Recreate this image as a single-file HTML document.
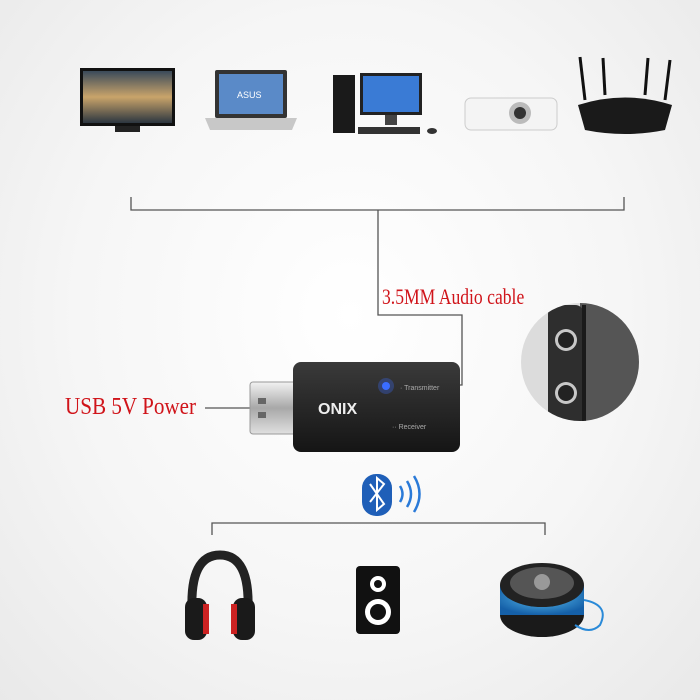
<!DOCTYPE html>
<html><head><meta charset="utf-8"><style>
html,body{margin:0;padding:0}
body{width:700px;height:700px;background:radial-gradient(ellipse at 50% 45%,#ffffff 0%,#f6f6f6 55%,#e9e9e9 100%);position:relative;overflow:hidden;font-family:"Liberation Sans",sans-serif}
.abs{position:absolute}
.red{color:#d0141a;font-family:"Liberation Serif",serif;transform-origin:0 0}
</style></head><body>
<svg class="abs" style="left:0;top:0" width="700" height="700" viewBox="0 0 700 700">
<defs>
<linearGradient id="sky" x1="0" y1="0" x2="0" y2="1"><stop offset="0" stop-color="#3a4a5a"/><stop offset="0.5" stop-color="#c9a46a"/><stop offset="1" stop-color="#2c3640"/></linearGradient>
<linearGradient id="body" x1="0" y1="0" x2="0" y2="1"><stop offset="0" stop-color="#3a3a3a"/><stop offset="1" stop-color="#151515"/></linearGradient>
<linearGradient id="usb" x1="0" y1="0" x2="0" y2="1"><stop offset="0" stop-color="#f2f2f2"/><stop offset="0.5" stop-color="#a8a8a8"/><stop offset="1" stop-color="#e0e0e0"/></linearGradient>
<radialGradient id="blue" cx="0.5" cy="0.4" r="0.6"><stop offset="0" stop-color="#5cc0f0"/><stop offset="1" stop-color="#1560a8"/></radialGradient>
<clipPath id="cc"><circle cx="580" cy="362" r="59"/></clipPath>
</defs>
<!-- TV -->
<rect x="80" y="68" width="95" height="58" fill="#111"/>
<rect x="83" y="71" width="89" height="52" fill="url(#sky)"/>
<rect x="115" y="126" width="25" height="6" fill="#222"/>
<!-- Laptop -->
<rect x="215" y="70" width="72" height="48" rx="2" fill="#333"/>
<rect x="219" y="74" width="64" height="40" fill="#5a8ac8"/>
<text x="237" y="98" font-size="9" fill="#fff" font-family="Liberation Sans">ASUS</text>
<polygon points="205,118 297,118 292,130 210,130" fill="#c8c8c8"/>
<!-- PC -->
<rect x="333" y="75" width="22" height="58" fill="#1a1a1a"/>
<rect x="360" y="73" width="62" height="42" fill="#222"/>
<rect x="363" y="76" width="56" height="36" fill="#3a7bd5"/>
<rect x="385" y="115" width="12" height="10" fill="#444"/>
<rect x="358" y="127" width="62" height="7" fill="#333"/>
<ellipse cx="432" cy="131" rx="5" ry="3" fill="#333"/>
<!-- Projector -->
<rect x="465" y="98" width="92" height="32" rx="6" fill="#f4f4f4" stroke="#ccc"/>
<circle cx="520" cy="113" r="11" fill="#bbb"/><circle cx="520" cy="113" r="6" fill="#333"/>
<!-- Router -->
<g stroke="#111" stroke-width="3"><line x1="585" y1="100" x2="580" y2="57"/><line x1="605" y1="95" x2="603" y2="58"/><line x1="645" y1="95" x2="648" y2="58"/><line x1="665" y1="100" x2="670" y2="60"/></g>
<path d="M578 105 Q625 90 672 105 L665 130 Q625 138 585 130 Z" fill="#1a1a1a"/>
<!-- brackets -->
<g stroke="#555" stroke-width="1.3" fill="none">
<path d="M131 197 V210 H624 V197"/>
<path d="M378 210 V315 H462 V385 H452"/>
<path d="M205 408 H250"/>
<path d="M212 535 V523 H545 V535"/>
</g>
<!-- USB plug -->
<rect x="250" y="382" width="50" height="52" rx="3" fill="url(#usb)" stroke="#999"/>
<rect x="258" y="398" width="8" height="6" fill="#666"/><rect x="258" y="412" width="8" height="6" fill="#666"/>
<!-- dongle -->
<rect x="293" y="362" width="167" height="90" rx="8" fill="url(#body)"/>
<text x="318" y="414" font-size="16" font-weight="bold" fill="#eee" font-family="Liberation Sans">ONIX</text>
<circle cx="386" cy="386" r="4" fill="#3a6dff"/><circle cx="386" cy="386" r="8" fill="#3a6dff" opacity="0.3"/>
<text x="400" y="390" font-size="7" fill="#aaa" font-family="Liberation Sans">· Transmitter</text>
<text x="392" y="429" font-size="7" fill="#aaa" font-family="Liberation Sans">·· Receiver</text>
<!-- inset -->
<g clip-path="url(#cc)">
<rect x="515" y="300" width="130" height="130" fill="#dcdcdc"/>
<rect x="580" y="300" width="65" height="130" fill="#555"/>
<rect x="548" y="305" width="36" height="125" rx="9" fill="#2e2e2e"/>
<rect x="582" y="305" width="4" height="125" fill="#1a1a1a"/>
</g>
<circle cx="566" cy="340" r="11" fill="#c8c8c8"/><circle cx="566" cy="340" r="8" fill="#222"/>
<circle cx="566" cy="393" r="11" fill="#c8c8c8"/><circle cx="566" cy="393" r="8" fill="#222"/>
<!-- bluetooth -->
<rect x="362" y="474" width="30" height="42" rx="14" fill="#1f5fb8"/>
<path d="M370 484 L384 504 L377 510 V478 L384 484 L370 502" stroke="#fff" stroke-width="2" fill="none"/>
<g stroke="#2a7ad8" stroke-width="2.5" fill="none"><path d="M400 486 Q405 494 400 502"/><path d="M407 481 Q415 494 407 507"/><path d="M414 476 Q425 494 414 512"/></g>
<!-- headphones -->
<path d="M192 610 Q190 555 220 555 Q250 555 248 610" stroke="#222" stroke-width="9" fill="none"/>
<rect x="185" y="598" width="22" height="42" rx="9" fill="#1a1a1a"/><rect x="233" y="598" width="22" height="42" rx="9" fill="#1a1a1a"/>
<rect x="203" y="604" width="6" height="30" fill="#c22"/><rect x="231" y="604" width="6" height="30" fill="#c22"/>
<!-- speaker -->
<rect x="356" y="566" width="44" height="68" rx="4" fill="#111"/>
<circle cx="378" cy="584" r="8" fill="#fff"/><circle cx="378" cy="584" r="4" fill="#111"/>
<circle cx="378" cy="612" r="13" fill="#fff"/><circle cx="378" cy="612" r="8" fill="#111"/>
<!-- round speaker -->
<ellipse cx="542" cy="615" rx="42" ry="22" fill="#1a1a1a"/>
<rect x="500" y="585" width="84" height="30" fill="url(#blue)"/>
<ellipse cx="542" cy="585" rx="42" ry="22" fill="#222"/>
<ellipse cx="542" cy="583" rx="32" ry="16" fill="#555"/>
<circle cx="542" cy="582" r="8" fill="#999"/>
<path d="M584 600 Q610 605 600 625 Q590 635 575 625" stroke="#2a8ad8" stroke-width="2" fill="none"/>
</svg>
<div class="abs red" style="left:382px;top:284px;font-size:22px;white-space:nowrap;transform:scaleX(0.8)">3.5MM Audio cable</div>
<div class="abs red" style="left:65px;top:394px;font-size:24px;white-space:nowrap;transform:scaleX(0.88)">USB 5V Power</div>
</body></html>
